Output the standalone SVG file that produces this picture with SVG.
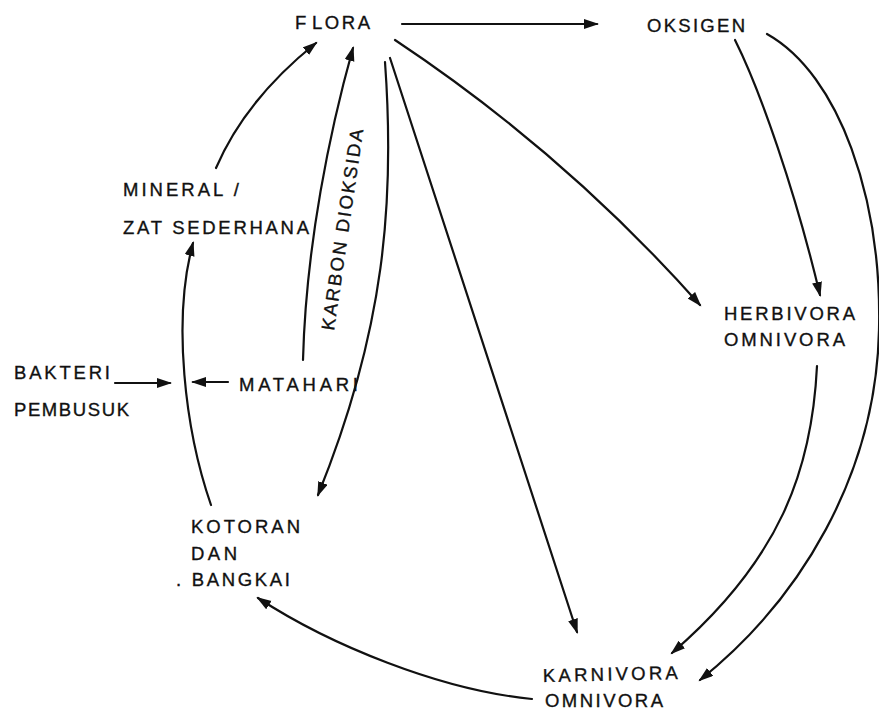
<svg xmlns="http://www.w3.org/2000/svg" width="879" height="711" viewBox="0 0 879 711">
<defs>
<style>
text{font-family:"Liberation Sans",Arial,Helvetica,sans-serif;font-size:18.5px;fill:#111;stroke:#111;stroke-width:0.35;}
.c{fill:none;stroke:#111;stroke-width:2.2;marker-end:url(#ah);stroke-linecap:round;}
</style>
<marker id="ah" markerUnits="userSpaceOnUse" markerWidth="18" markerHeight="12" refX="13" refY="5" orient="auto">
<path d="M0,0 L15,5 L0,10 z" fill="#111"/>
</marker>
</defs>
<rect width="879" height="711" fill="#fff"/>
<g id="connectors">
<path class="c" d="M402,24 L597,24"/>
<path class="c" d="M735,40 C760,90 795,190 820,295"/>
<path class="c" d="M767,34 C840,75 882,200 879,330 C876,475 800,600 700,680"/>
<path class="c" d="M395,40 Q565,153 700,305"/>
<path class="c" d="M390,58 L577,632"/>
<path class="c" d="M385,62 C395,200 385,330 318,495"/>
<path class="c" d="M303,360 C306,245 330,130 353,48"/>
<path class="c" d="M216,168 Q245,100 316,43"/>
<path class="c" d="M211,505 C185,430 172,320 193,243"/>
<path class="c" d="M115,383 L170,383"/>
<path class="c" d="M228,382 L193,382"/>
<path class="c" d="M817,366 C812,470 780,560 672,653"/>
<path class="c" d="M532,699 C440,690 330,645 258,598"/>
</g>
<g id="flora"><text x="295" y="29">F<tspan x="312" textLength="58" lengthAdjust="spacing">LORA</tspan></text></g>
<g id="oksigen"><text x="647" y="32" textLength="98" lengthAdjust="spacing">OKSIGEN</text></g>
<g id="mineral">
<text x="123" y="196" textLength="116" lengthAdjust="spacing">MINERAL /</text>
<text x="123" y="234" textLength="186" lengthAdjust="spacing">ZAT SEDERHANA</text>
</g>
<g id="karbon-dioksida"><text transform="translate(334,331) rotate(-81.7)" x="0" y="0" textLength="203" lengthAdjust="spacing">KARBON DIOKSIDA</text></g>
<g id="herbivora">
<text x="724" y="320" textLength="131" lengthAdjust="spacing">HERBIVORA</text>
<text x="724" y="346" textLength="121" lengthAdjust="spacing">OMNIVORA</text>
</g>
<g id="bakteri">
<text x="14" y="379" textLength="96" lengthAdjust="spacing">BAKTERI</text>
<text x="14" y="416" textLength="115" lengthAdjust="spacing">PEMBUSUK</text>
</g>
<g id="matahari"><text x="239" y="391" textLength="119" lengthAdjust="spacing">MATAHARI</text></g>
<g id="kotoran">
<text x="191" y="533" textLength="109" lengthAdjust="spacing">KOTORAN</text>
<text x="191" y="560" textLength="46" lengthAdjust="spacing">DAN</text>
<text x="176" y="586" textLength="114" lengthAdjust="spacing">. BANGKAI</text>
</g>
<g id="karnivora">
<text x="543" y="682" transform="rotate(-1.3 543 682)" textLength="135" lengthAdjust="spacing">KARNIVORA</text>
<text x="545" y="707" textLength="118" lengthAdjust="spacing">OMNIVORA</text>
</g>
</svg>
